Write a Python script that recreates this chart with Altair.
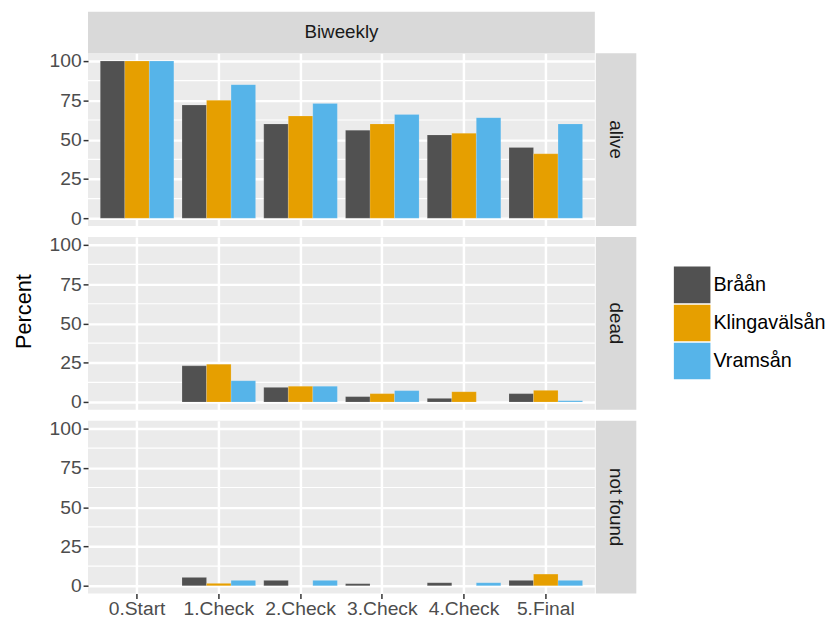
import altair as alt
import pandas as pd

stages = ["0.Start", "1.Check", "2.Check", "3.Check", "4.Check", "5.Final"]
rivers = ["Bråån", "Klingavälsån", "Vramsån"]
river_colors = ["#515151", "#E69F00", "#56B4E9"]
statuses = ["alive", "dead", "not found"]

alive_braan = [100, 72, 60, 56, 53, 45]
alive_klinga = [100, 75, 65, 60, 54, 41]
alive_vramsan = [100, 85, 73, 66, 64, 60]

dead_braan = [0, 23, 9.3, 3.4, 2.3, 5.3]
dead_klinga = [0, 24, 10, 5.3, 6.5, 7.4]
dead_vramsan = [0, 13.5, 10, 7.2, 0, 0.8]

nf_braan = [0, 5.3, 3.4, 1.3, 1.9, 3.4]
nf_klinga = [0, 1.5, 0, 0, 0, 7.4]
nf_vramsan = [0, 3.4, 3.4, 0, 1.9, 3.4]

y_major = [0, 25, 50, 75, 100]
y_minor = [12.5, 37.5, 62.5, 87.5]

series = {
    "alive": [alive_braan, alive_klinga, alive_vramsan],
    "dead": [dead_braan, dead_klinga, dead_vramsan],
    "not found": [nf_braan, nf_klinga, nf_vramsan],
}
rows = []
for status in statuses:
    for river, vals in zip(rivers, series[status]):
        for st, v in zip(stages, vals):
            rows.append({"Status": status, "River": river, "Stage": st, "Percent": v})
df = pd.DataFrame(rows)

FONT = "Liberation Sans"
W, H = 513, 175
STRIP = "#D9D9D9"

yscale = alt.Scale(domain=[-5, 105], nice=False, zero=False)
xscale = alt.Scale(domain=stages, paddingInner=0.1, paddingOuter=0.15)


def panel(status, bottom=False, ytitle=False, top_strip=False):
    xaxis = alt.Axis(
        title=None, grid=True, gridColor="white", gridWidth=2.5, domain=False,
        labels=bottom, ticks=bottom, tickColor="#333333", tickWidth=1.5, tickSize=5,
        labelColor="#4D4D4D", labelFontSize=19.5, labelFont=FONT, labelPadding=1,
        labelAngle=0, bandPosition=0.5,
    )
    yaxis_kw = dict(
        values=y_major, grid=True, gridColor="white",
        gridWidth=2.5, domain=False, tickColor="#333333", tickWidth=1.5, tickSize=5,
        labelColor="#4D4D4D", labelFontSize=19.5, labelFont=FONT, labelPadding=2,
        titleFont=FONT, titleFontSize=22, titleFontWeight="normal", titleColor="black",
        titlePadding=14,
    )
    if ytitle:
        yaxis = alt.Axis(title="Percent", titleY=75, **yaxis_kw)
    else:
        yaxis = alt.Axis(title=None, **yaxis_kw)
    minor = alt.Chart(pd.DataFrame({"v": y_minor})).mark_rule(
        color="white", strokeWidth=1.2
    ).encode(y=alt.Y("v:Q", scale=yscale, axis=yaxis))
    bars = alt.Chart(df[df.Status == status]).mark_bar(
        stroke="white", strokeWidth=0.3, strokeOpacity=0.5
    ).encode(
        x=alt.X("Stage:N", scale=xscale, axis=xaxis, sort=stages),
        xOffset=alt.XOffset("River:N", scale=alt.Scale(domain=rivers, paddingInner=0, paddingOuter=0)),
        y=alt.Y("Percent:Q", scale=yscale, axis=yaxis),
        color=alt.Color("River:N", scale=alt.Scale(domain=rivers, range=river_colors),
                        legend=alt.Legend(title=None)),
    )
    lab = pd.DataFrame({"label": [status]})
    rstrip = alt.Chart(lab).mark_rect(color=STRIP).encode(
        x=alt.value(W + 1), x2=alt.value(W + 42), y=alt.value(0), y2=alt.value(H)
    )
    rtext = alt.Chart(lab).mark_text(
        angle=90, font=FONT, fontSize=19, color="#1A1A1A", align="center", baseline="middle"
    ).encode(x=alt.value(W + 21.5), y=alt.value(H / 2), text="label:N")
    layers = [minor, bars, rstrip, rtext]
    if top_strip:
        tl = pd.DataFrame({"label": ["Biweekly"]})
        tstrip = alt.Chart(tl).mark_rect(color=STRIP).encode(
            x=alt.value(0), x2=alt.value(W), y=alt.value(-42), y2=alt.value(0)
        )
        ttext = alt.Chart(tl).mark_text(
            font=FONT, fontSize=19, color="#1A1A1A", align="center", baseline="middle"
        ).encode(x=alt.value(W / 2), y=alt.value(-21), text="label:N")
        layers += [tstrip, ttext]
    return alt.layer(*layers).properties(width=W, height=H)


chart = alt.vconcat(
    panel("alive", top_strip=True),
    panel("dead", ytitle=True),
    panel("not found", bottom=True),
    spacing=11,
    bounds="flush",
).properties(
    padding={"left": 4, "top": 0, "right": 0, "bottom": 0}
).configure(
    background="white"
).configure_view(
    fill="#EBEBEB", stroke=None
).configure_legend(
    orient="none", legendX=593, legendY=216, symbolType="square", symbolSize=1369,
    symbolStrokeWidth=0, labelFont=FONT, labelFontSize=20, labelColor="black",
    rowPadding=1.5, labelOffset=3, symbolOpacity=1,
)

chart.save("out.html", embed_options={"renderer": "svg", "actions": False})
